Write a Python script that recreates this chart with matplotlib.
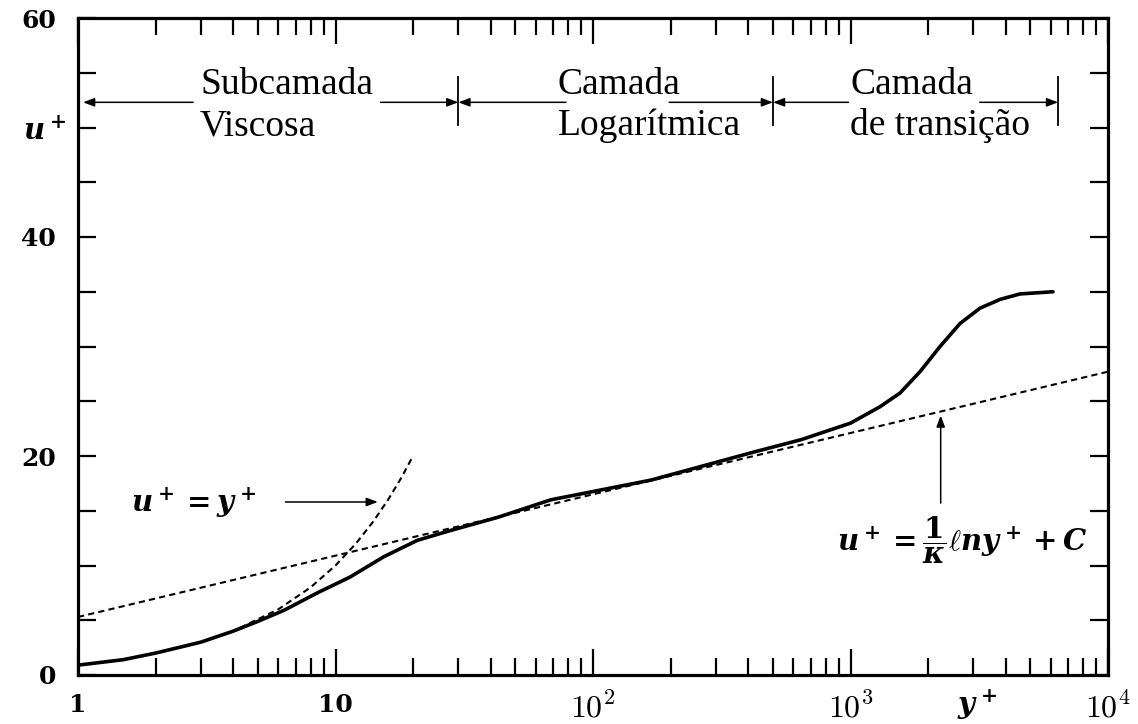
import matplotlib
matplotlib.use("Agg")
import matplotlib.pyplot as plt
from matplotlib.ticker import LogLocator, NullFormatter
from matplotlib.transforms import blended_transform_factory

# Mean velocity profile in wall units (y+, u+)
y_plus = [1, 1.5, 2, 3, 4, 5, 6.3, 8.5, 11.4, 15.4, 20.8, 28, 42.7, 68.6,
          168, 412, 645, 1000, 1302, 1557, 1862, 2227, 2663, 3184, 3807,
          4552, 6115]
u_plus = [0.9, 1.4, 2.0, 3.0, 4.0, 4.9, 5.9, 7.5, 8.95, 10.8, 12.3, 13.2,
          14.4, 16.0, 17.8, 20.3, 21.5, 23.0, 24.5, 25.75, 27.7, 30.0, 32.1,
          33.5, 34.3, 34.8, 35.0]

# Viscous sublayer law u+ = y+
visc_y = [3, 4, 6, 8, 10, 12, 14, 16, 18, 20]
visc_u = [3, 4, 6, 8, 10, 12, 14, 16, 18, 20]

# Log law end points
log_y = [1, 10000]
log_u = [5.3, 27.7]

# Region bounds (y+) and labels
region_bounds = [30, 500, 6400]
region_line1 = ["Subcamada", "Camada", "Camada"]
region_line2 = ["Viscosa", "Logarítmica", "de transição"]
region_label_x = [2.98, 73.1, 996]

y_ticks = list(range(0, 61, 5))
y_tick_labels = [str(v) if v % 20 == 0 else "" for v in y_ticks]
x_ticks = [1, 10, 100, 1000, 10000]
x_tick_labels = ["1", "10", r"$10^2$", r"$10^3$", r"$10^4$"]

plt.rcParams["mathtext.fontset"] = "cm"
plt.rcParams["mathtext.it"] = "DejaVu Serif:italic:bold"
plt.rcParams["mathtext.rm"] = "DejaVu Serif:bold"
plt.rcParams["mathtext.bf"] = "DejaVu Serif:bold"

W, H = 1138, 724
fig = plt.figure(figsize=(W / 100, H / 100), dpi=100)
ax = fig.add_axes([78 / W, 1 - 675 / H, 1030 / W, 657 / H])

ax.set_xscale("log")
ax.set_xlim(1, 1e4)
ax.set_ylim(0, 60)

# Curves
ax.plot(log_y, log_u, color="black", lw=1.5, ls=(0, (3, 2)), zorder=2)
ax.plot(visc_y, visc_u, color="black", lw=1.5, ls=(0, (3, 2)), zorder=2)
ax.plot(y_plus, u_plus, color="black", lw=2.6, solid_capstyle="round",
        solid_joinstyle="round", zorder=3)

# Ticks
ax.set_yticks(y_ticks, y_tick_labels)
ax.set_xticks(x_ticks, x_tick_labels)
ax.xaxis.set_minor_locator(LogLocator(base=10, subs=range(2, 10)))
ax.xaxis.set_minor_formatter(NullFormatter())
ax.tick_params(axis="both", which="both", direction="in", top=True, right=True,
               colors="black", labelsize=23)
ax.tick_params(axis="y", which="major", length=13, width=1.6, pad=16)
ax.tick_params(axis="x", which="major", length=19, width=1.6, pad=13)
ax.tick_params(axis="x", which="minor", length=12, width=1.6)
for s in ax.spines.values():
    s.set_linewidth(2.3)

bold_num = dict(family="DejaVu Serif", weight="bold", size=18)
for lbl in ax.get_yticklabels():
    lbl.set(**bold_num)
for lbl in ax.get_xticklabels()[:2]:
    lbl.set(**bold_num)

# Region markers along the top
band_u = 52.3
arrow_kw = dict(arrowstyle="-|>,head_length=0.45,head_width=0.17",
                color="black", lw=1.1, shrinkA=0, shrinkB=0, mutation_scale=15)
for xb in region_bounds:
    ax.plot([xb, xb], [50.2, 54.6], color="black", lw=1.3, zorder=3)
segments = [(2.80, 1.046), (14.96, 30), (78.5, 30), (197.6, 500), (982, 500), (3177, 6400)]
for x0, x1 in segments:
    ax.annotate("", xy=(x1, band_u), xytext=(x0, band_u), arrowprops=arrow_kw)
for lx, t1, t2 in zip(region_label_x, region_line1, region_line2):
    ax.text(lx, 53.1, t1, ha="left", va="baseline", fontsize=27,
            family="Liberation Serif")
    ax.text(lx, 49.3, t2, ha="left", va="baseline", fontsize=27,
            family="Liberation Serif")

# Equation labels
ax.text(2.80, 15.7, r"$u^+ = y^+$", ha="center", va="center", fontsize=21,
        math_fontfamily="custom")
ax.annotate("", xy=(14.6, 15.8), xytext=(6.39, 15.8), arrowprops=arrow_kw)
ax.text(2710, 12.3, r"$u^+ = \dfrac{1}{\kappa}\ell n y^+ + C$", ha="center",
        va="center", fontsize=21, math_fontfamily="custom")
ax.annotate("", xy=(2240, 23.7), xytext=(2240, 15.7), arrowprops=arrow_kw)

# Axis symbols
tr_y = blended_transform_factory(ax.transAxes, ax.transData)
ax.text(-0.032, 49.6, r"$u^+$", transform=tr_y, ha="center", va="center",
        fontsize=21, math_fontfamily="custom")
tr_x = blended_transform_factory(ax.transData, ax.transAxes)
ax.text(3090, -0.046, r"$y^+$", transform=tr_x, ha="center", va="center",
        fontsize=21, math_fontfamily="custom")

fig.savefig("out.png", dpi=100)
